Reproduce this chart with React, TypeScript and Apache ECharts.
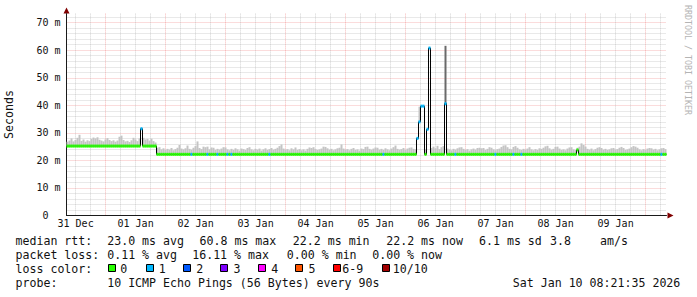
import React, { useEffect, useRef } from 'react';
import * as echarts from 'echarts';

// time axis in hours since 31 Dec 00:00
const START_HOUR = 8 + 21 / 60 + 35 / 3600; // 31 Dec 08:21:35
const SPAN_HOURS = 240;
const STEP_HOURS = 0.8;

const dayLabelHours = [12, 36, 60, 84, 108, 132, 156, 180, 204, 228];
const dayLabels = ['31 Dec', '01 Jan', '02 Jan', '03 Jan', '04 Jan', '05 Jan', '06 Jan', '07 Jan', '08 Jan', '09 Jan'];
const midnightHours = [24, 48, 72, 96, 120, 144, 168, 192, 216, 240];
const sixHourMarks = [12, 18, 30, 36, 42, 54, 60, 66, 78, 84, 90, 102, 108, 114, 126, 132, 138, 150, 156, 162, 174, 180, 186, 198, 204, 210, 222, 228, 234, 246];

const yMajorTicks = [0, 10, 20, 30, 40, 50, 60, 70];
const yMinorTicks = [2, 4, 6, 8, 12, 14, 16, 18, 22, 24, 26, 28, 32, 34, 36, 38, 42, 44, 46, 48, 52, 54, 56, 58, 62, 64, 66, 68, 72];
const Y_MAX = 73.3;

// median rtt (ms) per 48-minute bin
const medianRtt = [
  25.2, 25.2, 25.2, 25.2, 25.2, 25.2, 25.2, 25.2, 25.2, 25.2, 25.2, 25.2, 25.2, 25.2, 25.2, 25.2, 25.2, 25.2, 25.2, 25.2,
  25.2, 25.2, 25.2, 25.2, 25.2, 25.2, 25.2, 25.2, 25.2, 25.2, 25.2, 25.2, 25.2, 25.2, 25.2, 25.2, 25.2, 31.5, 25.2, 25.2,
  25.2, 25.2, 25.2, 25.2, 25.2, 22.2, 22.2, 22.2, 22.2, 22.2, 22.2, 22.2, 22.2, 22.2, 22.2, 22.2, 22.2, 22.2, 22.2, 22.2,
  22.2, 22.2, 22.2, 22.2, 22.2, 22.2, 22.2, 22.2, 22.2, 22.2, 22.2, 22.2, 22.2, 22.2, 22.2, 22.2, 22.2, 22.2, 22.2, 22.2,
  22.2, 22.2, 22.2, 22.2, 22.2, 22.2, 22.2, 22.2, 22.2, 22.2, 22.2, 22.2, 22.2, 22.2, 22.2, 22.2, 22.2, 22.2, 22.2, 22.2,
  22.2, 22.2, 22.2, 22.2, 22.2, 22.2, 22.2, 22.2, 22.2, 22.2, 22.2, 22.2, 22.2, 22.2, 22.2, 22.2, 22.2, 22.2, 22.2, 22.2,
  22.2, 22.2, 22.2, 22.2, 22.2, 22.2, 22.2, 22.2, 22.2, 22.2, 22.2, 22.2, 22.2, 22.2, 22.2, 22.2, 22.2, 22.2, 22.2, 22.2,
  22.2, 22.2, 22.2, 22.2, 22.2, 22.2, 22.2, 22.2, 22.2, 22.2, 22.2, 22.2, 22.2, 22.2, 22.2, 22.2, 22.2, 22.2, 22.2, 22.2,
  22.2, 22.2, 22.2, 22.2, 22.2, 22.2, 22.2, 22.2, 22.2, 22.2, 22.2, 22.2, 22.2, 22.2, 22.2, 28.0, 34.0, 39.7, 39.7, 22.2,
  31.3, 60.8, 22.2, 22.2, 22.2, 22.2, 22.2, 22.2, 22.2, 40.6, 22.2, 22.2, 22.2, 22.2, 22.2, 22.2, 22.2, 22.2, 22.2, 22.2,
  22.2, 22.2, 22.2, 22.2, 22.2, 22.2, 22.2, 22.2, 22.2, 22.2, 22.2, 22.2, 22.2, 22.2, 22.2, 22.2, 22.2, 22.2, 22.2, 22.2,
  22.2, 22.2, 22.2, 22.2, 22.2, 22.2, 22.2, 22.2, 22.2, 22.2, 22.2, 22.2, 22.2, 22.2, 22.2, 22.2, 22.2, 22.2, 22.2, 22.2,
  22.2, 22.2, 22.2, 22.2, 22.2, 22.2, 22.2, 22.2, 22.2, 22.2, 22.2, 22.2, 22.2, 22.2, 22.2, 23.8, 22.2, 22.2, 22.2, 22.2,
  22.2, 22.2, 22.2, 22.2, 22.2, 22.2, 22.2, 22.2, 22.2, 22.2, 22.2, 22.2, 22.2, 22.2, 22.2, 22.2, 22.2, 22.2, 22.2, 22.2,
  22.2, 22.2, 22.2, 22.2, 22.2, 22.2, 22.2, 22.2, 22.2, 22.2, 22.2, 22.2, 22.2, 22.2, 22.2, 22.2, 22.2, 22.2, 22.2, 22.2,
];

// top of the smoke (highest ping, ms) per bin
const smokeTop = [
  26.8, 27.2, 28.0, 26.9, 27.4, 28.2, 29.3, 27.1, 27.6, 26.8, 27.3, 27.0, 27.8, 28.3, 28.0, 28.4, 27.5, 27.2, 26.9, 27.6,
  28.1, 27.4, 27.0, 27.3, 26.8, 27.2, 28.6, 29.0, 27.4, 26.9, 27.1, 26.7, 27.3, 28.2, 27.6, 27.0, 28.0, 31.5, 28.2, 27.6,
  27.8, 27.2, 27.9, 27.0, 26.5, 24.6, 24.8, 24.0, 24.4, 23.8, 24.2, 23.9, 24.5, 23.7, 24.1, 24.6, 25.6, 24.3, 24.0, 24.4,
  25.4, 24.2, 23.9, 24.6, 25.2, 26.9, 24.5, 24.1, 25.0, 24.8, 25.0, 24.0, 24.7, 24.6, 23.8, 24.2, 23.9, 24.3, 24.8, 24.7,
  24.0, 23.7, 24.2, 23.8, 24.4, 24.0, 23.6, 24.3, 24.1, 23.8, 24.5, 24.8, 24.0, 23.7, 24.2, 23.9, 24.3, 23.6, 24.0, 24.4,
  23.8, 24.1, 24.5, 23.9, 24.2, 24.6, 25.2, 25.8, 24.3, 23.9, 24.1, 23.7, 24.4, 24.0, 24.7, 23.8, 24.1, 23.7, 24.0, 23.6,
  24.2, 24.7, 24.5, 24.8, 24.1, 23.8, 24.0, 24.3, 25.0, 24.9, 24.4, 23.9, 24.2, 23.7, 24.0, 24.4, 24.6, 25.8, 24.3, 23.9,
  24.1, 23.7, 24.2, 24.5, 23.8, 24.0, 23.6, 24.3, 24.1, 24.9, 25.0, 24.2, 23.9, 24.3, 24.7, 24.6, 23.9, 24.2, 23.8, 24.4,
  24.0, 23.7, 24.3, 24.8, 25.4, 24.2, 23.9, 24.1, 24.5, 23.8, 24.3, 24.6, 24.7, 24.2, 24.0, 28.5, 39.5, 39.7, 39.7, 24.0,
  31.3, 60.8, 24.5, 25.0, 24.4, 25.3, 24.1, 24.8, 25.2, 61.6, 24.3, 24.0, 23.7, 24.2, 23.9, 24.4, 24.7, 24.8, 24.2, 23.8,
  24.1, 23.6, 24.0, 24.3, 23.9, 24.5, 24.6, 24.4, 24.5, 23.8, 24.2, 24.8, 24.6, 24.0, 23.7, 24.1, 24.3, 24.9, 25.4, 25.5,
  24.8, 24.2, 24.0, 24.9, 25.2, 24.6, 24.0, 23.8, 24.2, 23.9, 24.3, 24.8, 24.0, 23.7, 24.1, 23.8, 24.4, 24.2, 24.6, 25.1,
  25.3, 24.4, 23.9, 24.2, 24.9, 25.0, 24.3, 23.8, 24.0, 23.7, 24.3, 24.7, 24.8, 24.0, 23.8, 24.6, 25.0, 26.2, 25.6, 25.0,
  24.2, 23.9, 24.3, 23.7, 24.1, 24.6, 24.8, 24.5, 23.9, 24.2, 23.8, 24.0, 24.4, 24.5, 23.9, 24.1, 24.6, 24.9, 24.5, 23.8,
  24.0, 24.3, 24.8, 25.2, 25.0, 24.6, 24.0, 23.7, 24.1, 23.8, 24.3, 24.5, 24.4, 23.9, 24.2, 23.7, 24.0, 24.4, 24.5, 24.1,
];

// lost pings per bin (index into lossColors)
const lossLevel = [
  0, 0, 0, 0, 0, 0, 0, 0, 0, 0, 0, 0, 0, 0, 0, 0, 0, 0, 0, 0,
  0, 0, 0, 0, 0, 0, 0, 0, 0, 0, 0, 0, 0, 0, 0, 0, 0, 1, 0, 0,
  0, 0, 0, 0, 0, 0, 0, 0, 0, 0, 0, 0, 0, 0, 0, 0, 0, 0, 0, 0,
  0, 0, 1, 0, 0, 0, 0, 0, 0, 0, 1, 0, 0, 0, 0, 1, 0, 0, 0, 0,
  1, 0, 1, 0, 0, 0, 0, 0, 0, 0, 0, 0, 0, 0, 0, 0, 0, 0, 0, 0,
  0, 1, 0, 0, 0, 0, 0, 0, 0, 0, 0, 0, 0, 0, 0, 0, 0, 0, 0, 0,
  0, 0, 0, 0, 0, 0, 0, 0, 0, 0, 0, 0, 0, 0, 0, 0, 0, 0, 0, 0,
  0, 0, 0, 0, 0, 0, 0, 0, 0, 0, 0, 0, 0, 0, 0, 0, 0, 0, 1, 0,
  0, 0, 0, 0, 0, 0, 0, 0, 0, 0, 0, 0, 0, 0, 0, 1, 1, 1, 1, 0,
  1, 1, 0, 0, 0, 0, 0, 0, 0, 1, 0, 0, 0, 0, 1, 0, 0, 0, 0, 0,
  0, 0, 0, 0, 0, 0, 0, 0, 0, 0, 0, 0, 0, 0, 1, 0, 0, 0, 0, 0,
  0, 0, 0, 1, 0, 0, 0, 1, 0, 0, 0, 0, 0, 0, 0, 0, 0, 0, 0, 0,
  0, 0, 0, 0, 0, 0, 0, 0, 0, 0, 0, 0, 0, 0, 0, 0, 0, 0, 0, 0,
  0, 0, 0, 0, 0, 0, 0, 0, 0, 0, 0, 0, 0, 0, 0, 0, 0, 0, 0, 0,
  0, 0, 0, 0, 0, 0, 0, 0, 0, 0, 0, 0, 0, 0, 0, 0, 0, 1, 0, 0,
];

const lossLabels = ['0', '1', '2', '3', '4', '5', '6-9', '10/10'];
const lossColors = ['#26ff00', '#00b8ff', '#0059ff', '#7e00ff', '#ff00ff', '#ff5500', '#ff0000', '#a10000'];

const rttStats = ['23.0 ms avg', '60.8 ms max', '22.2 ms min', '22.2 ms now', '6.1 ms sd', '3.8', 'am/s'];
const lossStats = ['0.11 % avg', '16.11 % max', '0.00 % min', '0.00 % now'];
const probeText = '10 ICMP Echo Pings (56 Bytes) every 90s';
const stampText = 'Sat Jan 10 08:21:35 2026';

const MONO = "'DejaVu Sans Mono', monospace";
const LEG_FS = 11.6;
const AXIS_FS = 10;

export default function App() {
  const ref = useRef<HTMLDivElement>(null);

  useEffect(() => {
    if (!ref.current) return;
    const chart = echarts.init(ref.current, undefined, { renderer: 'svg' });
    const endHour = START_HOUR + SPAN_HOURS;
    const binStart = (i: number) => START_HOUR + i * STEP_HOURS;

    const bins = medianRtt.map((m, i) => [binStart(i), binStart(i + 1), m, smokeTop[i], lossLevel[i]]);
    const lineData = medianRtt.map((m, i) => [binStart(i), m]);
    lineData.push([endHour, medianRtt[medianRtt.length - 1]]);

    const leg = (x: number, y: number, text: string) => ({
      type: 'text', x, y,
      style: { text, fill: '#111', font: `${LEG_FS}px ${MONO}`, verticalAlign: 'middle', align: 'left' },
      silent: true,
    });

    const swatchX = [108, 146, 183, 220, 258, 295, 333, 382];
    const swatchLabelX = [120.3, 158.8, 196.2, 233.5, 271.2, 308.5, 342.2, 392.8];

    const graphics: any[] = [
      leg(15.5, 241, 'median rtt:'),
      ...rttStats.map((s, k) => leg([107.2, 199.5, 292.8, 386.2, 479, 550, 600][k], 241, s)),
      leg(15.5, 255, 'packet loss:'),
      ...lossStats.map((s, k) => leg([107.2, 192.2, 286.8, 372.2][k], 255, s)),
      leg(15.5, 269, 'loss color:'),
      ...lossLabels.map((l, k) => ({
        type: 'rect', shape: { x: swatchX[k] + 0.5, y: 264.5, width: 7, height: 7 },
        style: { fill: lossColors[k], stroke: '#000', lineWidth: 1 }, silent: true,
      })),
      ...lossLabels.map((l, k) => leg(swatchLabelX[k], 269, l)),
      leg(15.5, 283, 'probe:'),
      leg(107.2, 283, probeText),
      leg(512.8, 283, stampText),
      {
        type: 'text', x: 688, y: 60, rotation: -Math.PI / 2,
        style: { text: 'RRDTOOL / TOBI OETIKER', fill: '#b4b4b4', font: `8.3px ${MONO}`, align: 'center', verticalAlign: 'middle' },
        silent: true,
      },
      { type: 'polygon', shape: { points: [[63.5, 13.5], [66.5, 7.5], [69.5, 13.5]] }, style: { fill: '#800000' }, silent: true },
      { type: 'polygon', shape: { points: [[667.5, 212.5], [673.5, 215.5], [667.5, 218.5]] }, style: { fill: '#800000' }, silent: true },
    ];

    const majorGrid = { color: 'rgba(235,100,100,0.45)', type: [1, 1], width: 1 };
    const minorGrid = { color: 'rgba(150,150,150,0.42)', type: [1, 1], width: 1 };

    chart.setOption({
      animation: false,
      backgroundColor: '#fff',
      grid: { left: 66.5, right: 30.5, top: 13.6, bottom: 81.5, containLabel: false, outerBoundsMode: 'none' },
      xAxis: [
        {
          type: 'value', min: START_HOUR, max: endHour, gridIndex: 0,
          axisLine: { show: true, lineStyle: { color: '#1a1a1a', width: 1 } },
          axisTick: { show: false, customValues: midnightHours },
          splitLine: { show: true, lineStyle: majorGrid },
          axisLabel: {
            customValues: dayLabelHours,
            formatter: (v: number) => dayLabels[dayLabelHours.indexOf(Math.round(v))] ?? '',
            fontFamily: MONO, fontSize: AXIS_FS, color: '#111', margin: 3,
          },
        },
        {
          type: 'value', min: START_HOUR, max: endHour, gridIndex: 0, position: 'bottom',
          axisLine: { show: false }, axisLabel: { show: false },
          axisTick: { show: false, customValues: sixHourMarks },
          splitLine: { show: true, lineStyle: minorGrid },
        },
      ],
      yAxis: [
        {
          type: 'value', min: 0, max: Y_MAX, gridIndex: 0,
          name: 'Seconds', nameLocation: 'middle', nameRotate: 90, nameGap: 52,
          nameTextStyle: { fontFamily: MONO, fontSize: LEG_FS, color: '#111' },
          axisLine: { show: true, lineStyle: { color: '#1a1a1a', width: 1 } },
          axisTick: { show: false, customValues: yMajorTicks },
          splitLine: { show: true, lineStyle: majorGrid },
          axisLabel: {
            customValues: yMajorTicks,
            formatter: (v: number) => (v === 0 ? '{z|0}' : `${v} m`),
            rich: { z: { padding: [0, 12, 0, 0], fontFamily: MONO, fontSize: AXIS_FS, color: '#111' } },
            fontFamily: MONO, fontSize: AXIS_FS, color: '#111', margin: 6,
          },
        },
        {
          type: 'value', min: 0, max: Y_MAX, gridIndex: 0, position: 'left',
          axisLine: { show: false }, axisLabel: { show: false },
          axisTick: { show: false, customValues: yMinorTicks },
          splitLine: { show: true, lineStyle: minorGrid },
        },
      ],
      series: [
        {
          type: 'custom', name: 'smoke', xAxisIndex: 0, yAxisIndex: 0, z: 2,
          data: bins,
          encode: { x: [0, 1], y: [2, 3] },
          renderItem: (params: any, api: any) => {
            const t0 = api.value(0), t1 = api.value(1), m = api.value(2), top = api.value(3);
            const a = api.coord([t0, top]);
            const b = api.coord([t1, m]);
            return {
              type: 'rect',
              shape: { x: a[0], y: a[1], width: b[0] - a[0], height: b[1] - a[1] },
              style: { fill: top - m > 15 ? '#6a6a6a' : '#c4c4c4' },
            };
          },
          silent: true,
        },
        {
          type: 'line', name: 'median', xAxisIndex: 0, yAxisIndex: 0, z: 3,
          data: lineData, step: 'end', showSymbol: false, symbol: 'none',
          lineStyle: { color: '#000', width: 1 }, silent: true,
        },
        {
          type: 'custom', name: 'loss', xAxisIndex: 0, yAxisIndex: 0, z: 4,
          data: bins,
          encode: { x: [0, 1], y: 2 },
          renderItem: (params: any, api: any) => {
            const a = api.coord([api.value(0), api.value(2)]);
            const b = api.coord([api.value(1), api.value(2)]);
            return {
              type: 'line',
              shape: { x1: a[0], y1: a[1], x2: b[0], y2: b[1] },
              style: { stroke: lossColors[api.value(4)], lineWidth: 3, lineCap: 'butt' },
            };
          },
          silent: true,
        },
      ],
      graphic: graphics,
    });
    return () => chart.dispose();
  }, []);

  return <div ref={ref} style={{ position: 'fixed', left: 0, top: 0, width: 697, height: 297 }} />;
}
